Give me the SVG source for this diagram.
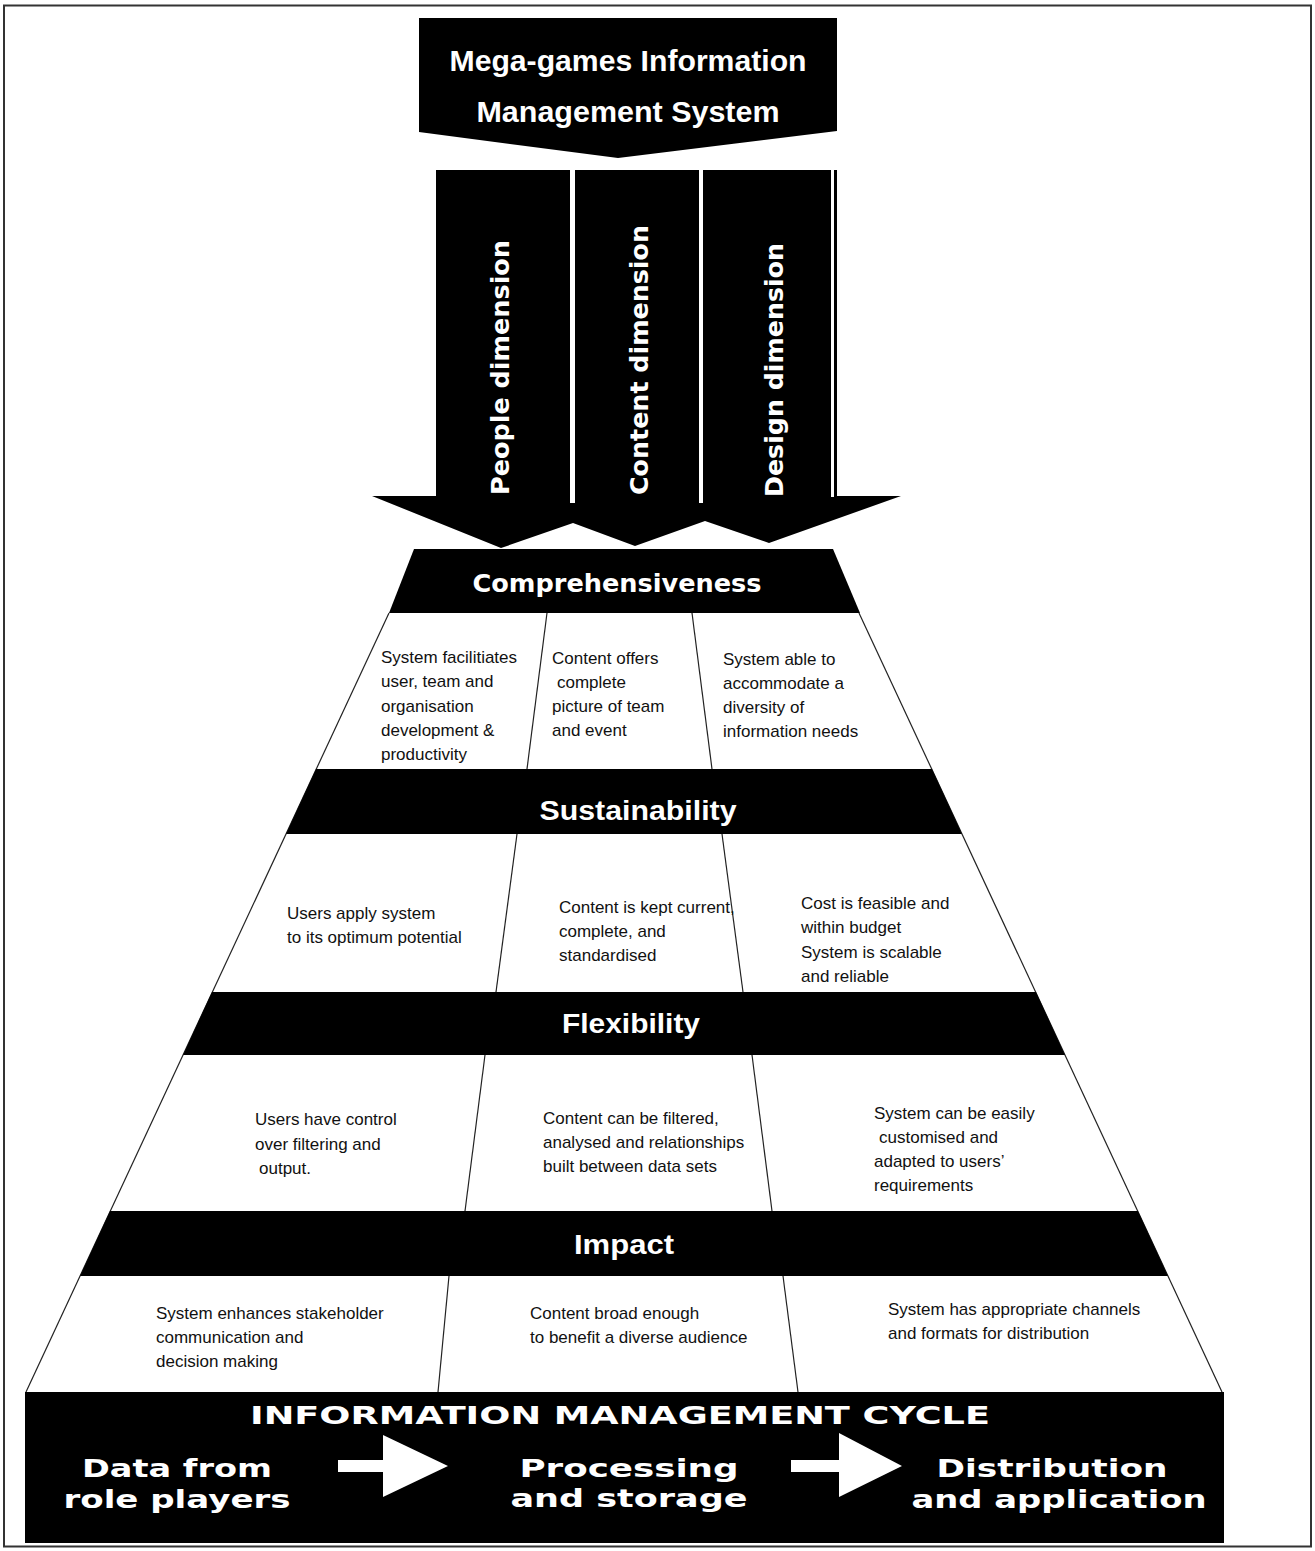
<svg xmlns="http://www.w3.org/2000/svg" width="1315" height="1551" viewBox="0 0 1315 1551">
  <style>
    .ink { fill: #000; }
    .frame { fill: none; stroke: #222; stroke-width: 1.2; }
    .cell { font-family: "Liberation Sans", Arial, sans-serif; font-size: 17px; fill: #111; }
    .head { font-family: "Liberation Sans", Arial, sans-serif; font-weight: bold; fill: #fff; }
    .wide { font-family: "DejaVu Sans", Verdana, sans-serif; font-weight: bold; fill: #fff; }
  </style>

  <rect x="0" y="0" width="1315" height="1551" fill="#fff"/>
  <!-- outer border -->
  <rect x="4" y="5.5" width="1307" height="1541" fill="none" stroke="#333" stroke-width="2"/>

  <!-- title arrow -->
  <g id="title">
    <path class="ink" d="M419,18 L837,18 L837,131 L618,158 L419,132 Z"/>
    <text class="head" x="628" y="71" font-size="30" text-anchor="middle" textLength="357" lengthAdjust="spacingAndGlyphs">Mega-games Information</text>
    <text class="head" x="628" y="122" font-size="30" text-anchor="middle" textLength="303" lengthAdjust="spacingAndGlyphs">Management System</text>
  </g>

  <!-- three dimension arrows merging into one head -->
  <g id="dimensions">
    <path class="ink" d="M436,170 L837,170 L837,496 L901,496 L769,543 L705,521 L635,546 L573,523 L501,548 L372,496 L436,496 Z"/>
    <rect x="570" y="170" width="5" height="333" fill="#fff"/>
    <rect x="699" y="170" width="4" height="333" fill="#fff"/>
    <rect x="831" y="170" width="3" height="327" fill="#fff"/>
  </g>
  <g id="people-dimension">
    <text class="wide" transform="translate(509,495) rotate(-90)" font-size="24" textLength="255" lengthAdjust="spacingAndGlyphs">People dimension</text>
  </g>
  <g id="content-dimension">
    <text class="wide" transform="translate(648,495) rotate(-90)" font-size="24" textLength="270" lengthAdjust="spacingAndGlyphs">Content dimension</text>
  </g>
  <g id="design-dimension">
    <text class="wide" transform="translate(783,497) rotate(-90)" font-size="24" textLength="254" lengthAdjust="spacingAndGlyphs">Design dimension</text>
  </g>

  <!-- pyramid outline and column dividers -->
  <g id="pyramid-frame" class="frame">
    <line x1="389" y1="613" x2="26" y2="1392"/>
    <line x1="859" y1="613" x2="1222" y2="1392"/>
    <line x1="547" y1="613" x2="527" y2="769"/>
    <line x1="692" y1="613" x2="712" y2="769"/>
    <line x1="517" y1="834" x2="496" y2="992"/>
    <line x1="722" y1="834" x2="743" y2="992"/>
    <line x1="485" y1="1055" x2="465" y2="1211"/>
    <line x1="752" y1="1055" x2="772" y2="1211"/>
    <line x1="449" y1="1276" x2="438" y2="1392"/>
    <line x1="783" y1="1276" x2="798" y2="1392"/>
  </g>

  <!-- level bands -->
  <g id="band-comprehensiveness">
    <path class="ink" d="M414,549 L833,549 L860,613 L389,613 Z"/>
    <text class="wide" x="617" y="592" font-size="24" text-anchor="middle" textLength="289" lengthAdjust="spacingAndGlyphs">Comprehensiveness</text>
  </g>
  <g id="band-sustainability">
    <path class="ink" d="M316,769 L932,769 L962,834 L286,834 Z"/>
    <text class="head" x="638" y="820" font-size="28" text-anchor="middle" textLength="197" lengthAdjust="spacingAndGlyphs">Sustainability</text>
  </g>
  <g id="band-flexibility">
    <path class="ink" d="M212,992 L1036,992 L1065,1055 L183,1055 Z"/>
    <text class="head" x="631" y="1033" font-size="28" text-anchor="middle" textLength="138" lengthAdjust="spacingAndGlyphs">Flexibility</text>
  </g>
  <g id="band-impact">
    <path class="ink" d="M110,1211 L1138,1211 L1168,1276 L80,1276 Z"/>
    <text class="head" x="624" y="1254" font-size="28" text-anchor="middle" textLength="100" lengthAdjust="spacingAndGlyphs">Impact</text>
  </g>

  <!-- comprehensiveness cells -->
  <g id="cell-comp-people" class="cell">
    <text x="381" y="663">System facilitiates</text>
    <text x="381" y="687">user, team and</text>
    <text x="381" y="712">organisation</text>
    <text x="381" y="736">development &amp;</text>
    <text x="381" y="760">productivity</text>
  </g>
  <g id="cell-comp-content" class="cell">
    <text x="552" y="664">Content offers</text>
    <text x="557" y="688">complete</text>
    <text x="552" y="712">picture of team</text>
    <text x="552" y="736">and event</text>
  </g>
  <g id="cell-comp-design" class="cell">
    <text x="723" y="665">System able to</text>
    <text x="723" y="689">accommodate a</text>
    <text x="723" y="713">diversity of</text>
    <text x="723" y="737">information needs</text>
  </g>

  <!-- sustainability cells -->
  <g id="cell-sust-people" class="cell">
    <text x="287" y="919">Users apply system</text>
    <text x="287" y="943">to its optimum potential</text>
  </g>
  <g id="cell-sust-content" class="cell">
    <text x="559" y="913">Content is kept current,</text>
    <text x="559" y="937">complete, and</text>
    <text x="559" y="961">standardised</text>
  </g>
  <g id="cell-sust-design" class="cell">
    <text x="801" y="909">Cost is feasible and</text>
    <text x="801" y="933">within budget</text>
    <text x="801" y="958">System is scalable</text>
    <text x="801" y="982">and reliable</text>
  </g>

  <!-- flexibility cells -->
  <g id="cell-flex-people" class="cell">
    <text x="255" y="1125">Users have control</text>
    <text x="255" y="1150">over filtering and</text>
    <text x="259" y="1174">output.</text>
  </g>
  <g id="cell-flex-content" class="cell">
    <text x="543" y="1124">Content can be filtered,</text>
    <text x="543" y="1148">analysed and relationships</text>
    <text x="543" y="1172">built between data sets</text>
  </g>
  <g id="cell-flex-design" class="cell">
    <text x="874" y="1119">System can be easily</text>
    <text x="879" y="1143">customised and</text>
    <text x="874" y="1167">adapted to users’</text>
    <text x="874" y="1191">requirements</text>
  </g>

  <!-- impact cells -->
  <g id="cell-impact-people" class="cell">
    <text x="156" y="1319">System enhances stakeholder</text>
    <text x="156" y="1343">communication and</text>
    <text x="156" y="1367">decision making</text>
  </g>
  <g id="cell-impact-content" class="cell">
    <text x="530" y="1319">Content broad enough</text>
    <text x="530" y="1343">to benefit a diverse audience</text>
  </g>
  <g id="cell-impact-design" class="cell">
    <text x="888" y="1315">System has appropriate channels</text>
    <text x="888" y="1339">and formats for distribution</text>
  </g>

  <!-- information management cycle base -->
  <g id="cycle">
    <rect class="ink" x="25" y="1392" width="1199" height="151"/>
    <text class="wide" x="620" y="1424" font-size="24" text-anchor="middle" textLength="740" lengthAdjust="spacingAndGlyphs">INFORMATION MANAGEMENT CYCLE</text>
  </g>
  <g id="stage-data">
    <text class="wide" x="177" y="1477" font-size="24" text-anchor="middle" textLength="190" lengthAdjust="spacingAndGlyphs">Data from</text>
    <text class="wide" x="177" y="1508" font-size="24" text-anchor="middle" textLength="227" lengthAdjust="spacingAndGlyphs">role players</text>
  </g>
  <g id="stage-processing">
    <text class="wide" x="629" y="1477" font-size="24" text-anchor="middle" textLength="219" lengthAdjust="spacingAndGlyphs">Processing</text>
    <text class="wide" x="629" y="1507" font-size="24" text-anchor="middle" textLength="237" lengthAdjust="spacingAndGlyphs">and storage</text>
  </g>
  <g id="stage-distribution">
    <text class="wide" x="1052" y="1477" font-size="24" text-anchor="middle" textLength="231" lengthAdjust="spacingAndGlyphs">Distribution</text>
    <text class="wide" x="1059" y="1508" font-size="24" text-anchor="middle" textLength="295" lengthAdjust="spacingAndGlyphs">and application</text>
  </g>
  <g id="connectors" fill="#fff">
    <path d="M338,1460 L383,1460 L383,1435 L448,1466 L383,1497 L383,1472 L338,1472 Z"/>
    <path d="M791,1460 L839,1460 L839,1433 L902,1466 L839,1497 L839,1472 L791,1472 Z"/>
  </g>
</svg>
